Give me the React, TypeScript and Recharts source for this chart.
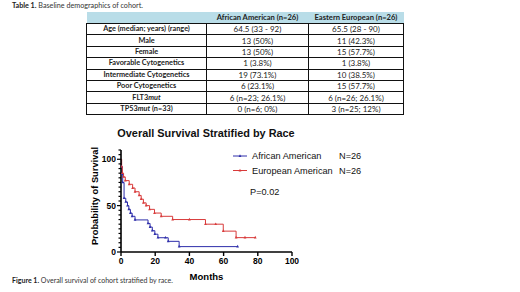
import React from 'react';
import { LineChart, Line, XAxis, YAxis, Legend } from 'recharts';

// ---------- Table data ----------
const tableCaptionLead = 'Table 1.';
const tableCaptionText = ' Baseline demographics of cohort.';
const columnHeaders = ['', 'African American (n=26)', 'Eastern European (n=26)'];
const rowLabelMain = [
  'Age (median; years) (range)',
  'Male',
  'Female',
  'Favorable Cytogenetics',
  'Intermediate Cytogenetics',
  'Poor Cytogenetics',
  'FLT3',
  'TP53',
];
const rowLabelItalic = ['', '', '', '', '', '', 'mut', 'mut'];
const rowLabelSuffix = ['', '', '', '', '', '', '', ' (n=33)'];
const africanAmericanValues = [
  '64.5 (33 - 92)',
  '13 (50%)',
  '13 (50%)',
  '1 (3.8%)',
  '19 (73.1%)',
  '6 (23.1%)',
  '6 (n=23; 26.1%)',
  '0 (n=6; 0%)',
];
const easternEuropeanValues = [
  '65.5 (28 - 90)',
  '11 (42.3%)',
  '15 (57.7%)',
  '1 (3.8%)',
  '10 (38.5%)',
  '15 (57.7%)',
  '6 (n=26; 26.1%)',
  '3 (n=25; 12%)',
];

// ---------- Chart data ----------
const chartTitle = 'Overall Survival Stratified by Race';
const xAxisTitle = 'Months';
const yAxisTitle = 'Probability of Survival';
const seriesNames = ['African American', 'European American'];
const seriesN = ['N=26', 'N=26'];
const pValueText = 'P=0.02';
const figureCaptionLead = 'Figure 1.';
const figureCaptionText = ' Overall survival of cohort stratified by race.';

const aaMonths = [0, 0.3, 0.6, 1.0, 1.8, 2.8, 3.8, 4.6, 5.5, 6.5, 8.2, 15.8, 17.0, 18.3, 19.8, 21.6, 26.0, 27.6, 34.0, 68.2];
const aaSurvival = [100, 92, 84, 75, 58, 54, 50, 46, 42, 38.5, 34.6, 30.8, 26.9, 23, 19.2, 15.4, 15.4, 11.5, 5.8, 5.8];

const euMonths = [0, 0.4, 0.8, 1.5, 2.5, 4.8, 6.8, 8.2, 10.6, 11.8, 13.1, 14.7, 16.7, 19.6, 23.5, 30.2, 40, 49.4, 55.4, 59.8, 67.3, 72.5, 78.5];
const euSurvival = [100, 92, 85, 81, 77, 73, 69, 65, 61, 57, 53, 50, 46, 42, 38.5, 35, 35, 30, 30, 22.5, 15.5, 15.5, 15.5];

const xTicks = [0, 20, 40, 60, 80, 100];
const yTicks = [0, 5, 10, 15, 20, 25, 30, 35, 40, 45, 50, 55, 60, 65, 70, 75, 80, 85, 90, 95, 100, 105, 110];
const yLabelTicks = [0, 50, 100];

const BLUE = '#2e2eaa';
const RED = '#d83a3a';
const CHART_FONT = '"Liberation Sans", Arial, sans-serif';
const DOC_FONT = 'Lato, "Open Sans", sans-serif';

const aaData = aaMonths.map((m, i) => ({ month: m, survival: aaSurvival[i] }));
const euData = euMonths.map((m, i) => ({ month: m, survival: euSurvival[i] }));

const Y_TICK_SIZE = 4;
const Y_TICK_MARGIN = 1;

const YTick = (props: any) => {
  const { x, y, payload } = props;
  const axisX = x + Y_TICK_SIZE + Y_TICK_MARGIN;
  const major = yLabelTicks.includes(payload.value);
  return (
    <g>
      <line x1={axisX - (major ? 4 : 2.5)} x2={axisX} y1={y} y2={y} stroke="#000" strokeWidth={1.2} />
      {major && (
        <text
          x={x}
          y={y}
          textAnchor="end"
          dominantBaseline="central"
          fontSize={8.5}
          fontWeight={700}
          fontFamily={CHART_FONT}
          fill="#000"
        >
          {payload.value}
        </text>
      )}
    </g>
  );
};

const makeDot = (color: string) => (props: any) => {
  const { cx, cy, index } = props;
  if (index === 0 || cx == null || cy == null) return <g key={`d-${index}`} />;
  return (
    <path
      key={`d-${index}`}
      d={`M${cx},${cy - 1.8}L${cx + 1.4},${cy + 0.9}L${cx - 1.4},${cy + 0.9}Z`}
      fill={color}
    />
  );
};

const renderLegend = (props: any) => {
  const payload = props.payload || [];
  return (
    <svg width={200} height={52} style={{ overflow: 'visible', display: 'block' }}>
      {payload.map((entry: any, i: number) => {
        const cy = 6 + i * 14.5;
        return (
          <g key={`lg-${i}`}>
            <line x1={3} x2={17} y1={cy} y2={cy} stroke={entry.color} strokeWidth={1} />
            <path d={`M10,${cy - 1.8}L11.4,${cy + 0.9}L8.6,${cy + 0.9}Z`} fill={entry.color} />
            <text x={22} y={cy} dominantBaseline="central" fontSize={9.2} fontFamily={CHART_FONT} fill="#111">
              {entry.value}
            </text>
            <text x={109} y={cy} dominantBaseline="central" fontSize={9.2} fontFamily={CHART_FONT} fill="#111">
              {seriesN[i]}
            </text>
          </g>
        );
      })}
      <text x={20} y={41.5} dominantBaseline="central" fontSize={9.2} fontFamily={CHART_FONT} fill="#111">
        {pValueText}
      </text>
    </svg>
  );
};

export default function App() {
  const cellBase: React.CSSProperties = {
    border: '1px solid #111',
    padding: 0,
    height: 10.4,
    lineHeight: '10px',
    textAlign: 'center',
    fontSize: 8,
    color: '#222',
    whiteSpace: 'nowrap',
    overflow: 'hidden',
  };
  return (
    <div
      style={{
        position: 'absolute',
        left: 0,
        top: 0,
        width: 520,
        height: 292,
        background: '#fff',
        overflow: 'hidden',
        fontFamily: DOC_FONT,
      }}
    >
      <LineChart
        width={520}
        height={292}
        margin={{ top: 150, right: 228, bottom: 12, left: 0 }}
        style={{ position: 'absolute', left: 0, top: 0 }}
      >
        <XAxis
          type="number"
          dataKey="month"
          domain={[0, 100]}
          ticks={xTicks}
          allowDataOverflow
          height={28}
          axisLine={{ stroke: '#000', strokeWidth: 1.6 }}
          tickLine={{ stroke: '#000', strokeWidth: 1.4 }}
          tickSize={4}
          tickMargin={2}
          tick={{ fontSize: 8.5, fontWeight: 700, fill: '#000', fontFamily: CHART_FONT }}
          label={{
            value: xAxisTitle,
            position: 'insideBottom',
            offset: 0,
            style: { fontSize: 9.5, fontWeight: 700, fill: '#000', fontFamily: CHART_FONT },
          }}
        />
        <YAxis
          type="number"
          domain={[0, 110]}
          ticks={yTicks}
          interval={0}
          allowDataOverflow
          width={121}
          axisLine={{ stroke: '#000', strokeWidth: 1.6 }}
          tickLine={false}
          tickSize={Y_TICK_SIZE}
          tickMargin={Y_TICK_MARGIN}
          tick={<YTick />}
          label={{
            content: () => (
              <text
                x={95}
                y={196}
                transform="rotate(-90 95 196)"
                textAnchor="middle"
                dominantBaseline="central"
                fontSize={9.3}
                fontWeight={700}
                fontFamily={CHART_FONT}
                fill="#000"
              >
                {yAxisTitle}
              </text>
            ),
          }}
        />
        <Legend
          layout="vertical"
          align="center"
          verticalAlign="middle"
          content={renderLegend}
          wrapperStyle={{ position: 'absolute', left: 230, top: 150, width: 200, height: 52 }}
        />
        <Line
          data={aaData}
          dataKey="survival"
          name={seriesNames[0]}
          type="stepAfter"
          stroke={BLUE}
          strokeWidth={1}
          dot={makeDot(BLUE)}
          activeDot={false}
          isAnimationActive={false}
        />
        <Line
          data={euData}
          dataKey="survival"
          name={seriesNames[1]}
          type="stepAfter"
          stroke={RED}
          strokeWidth={1}
          dot={makeDot(RED)}
          activeDot={false}
          isAnimationActive={false}
        />
      </LineChart>

      {/* Chart title */}
      <div
        style={{
          position: 'absolute',
          left: 106,
          top: 126,
          width: 200,
          textAlign: 'center',
          fontFamily: CHART_FONT,
          fontWeight: 700,
          fontSize: 10.9,
          lineHeight: '14px',
          color: '#111',
        }}
      >
        {chartTitle}
      </div>

      {/* Table caption */}
      <div
        style={{
          position: 'absolute',
          left: 12,
          top: 1,
          fontSize: 7.2,
          lineHeight: '10px',
          color: '#333',
          whiteSpace: 'nowrap',
        }}
      >
        <b style={{ color: '#222' }}>{tableCaptionLead}</b>
        {tableCaptionText}
      </div>

      {/* Table */}
      <table
        style={{
          position: 'absolute',
          left: 86,
          top: 12,
          width: 317,
          borderCollapse: 'collapse',
          tableLayout: 'fixed',
          fontFamily: DOC_FONT,
        }}
      >
        <colgroup>
          <col style={{ width: 120 }} />
          <col style={{ width: 102 }} />
          <col style={{ width: 95 }} />
        </colgroup>
        <thead>
          <tr>
            {columnHeaders.map((h, i) => (
              <th
                key={`h-${i}`}
                style={{
                  background: '#b9dde8',
                  padding: 0,
                  height: 11,
                  lineHeight: '11px',
                  fontSize: 7.6,
                  fontWeight: 700,
                  color: '#222',
                  textAlign: 'center',
                  whiteSpace: 'nowrap',
                }}
              >
                {h}
              </th>
            ))}
          </tr>
        </thead>
        <tbody>
          {rowLabelMain.map((label, r) => (
            <tr key={`r-${r}`}>
              <td style={{ ...cellBase, fontWeight: 700, fontSize: 7.3 }}>
                {label}
                {rowLabelItalic[r] && <i>{rowLabelItalic[r]}</i>}
                {rowLabelSuffix[r]}
              </td>
              <td style={cellBase}>{africanAmericanValues[r]}</td>
              <td style={cellBase}>{easternEuropeanValues[r]}</td>
            </tr>
          ))}
        </tbody>
      </table>

      {/* Figure caption */}
      <div
        style={{
          position: 'absolute',
          left: 12,
          top: 275,
          fontSize: 7,
          lineHeight: '10px',
          color: '#333',
          whiteSpace: 'nowrap',
        }}
      >
        <b style={{ color: '#222' }}>{figureCaptionLead}</b>
        {figureCaptionText}
      </div>
    </div>
  );
}
